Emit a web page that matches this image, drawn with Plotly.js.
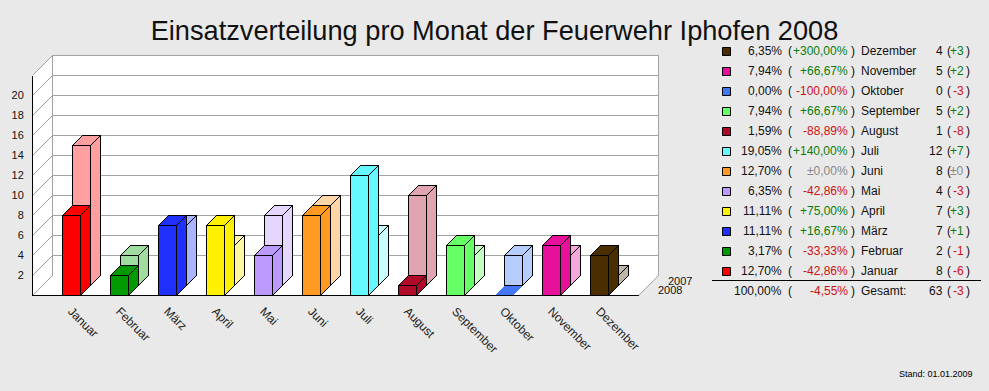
<!DOCTYPE html>
<html>
<head>
<meta charset="utf-8">
<script src="https://cdn.plot.ly/plotly-3.0.1.min.js"></script>
<style>html,body{margin:0;padding:0;background:#E9E9E9;}
.scatterlayer path{shape-rendering:crispEdges;}</style>
</head>
<body>
<div id="chart" style="width:989px;height:391px;"></div>
<script>
// ---- data ----
const months = ["Januar","Februar","März","April","Mai","Juni","Juli","August","September","Oktober","November","Dezember"];
const values2008 = [8,2,7,7,4,8,12,1,5,0,5,4];
const values2007 = [14,3,6,4,7,8,5,9,3,3,3,1];
const colors2008 = ["#FF0000","#009900","#2030FF","#FFF000","#BB99FF","#FF9922","#66F8FF","#B00A28","#66FF66","#4477F5","#E6109A","#4A2E00"];
const colors2007 = ["#FF9F9F","#A0DBA0","#AAB4FF","#FFF8A0","#E4D6FF","#FFD6A8","#C8FCFF","#E1A5B2","#C4FFC4","#B8CDFF","#F5A6DA","#BDB5A5"];
const shares = ["12,70%","3,17%","11,11%","11,11%","6,35%","12,70%","19,05%","1,59%","7,94%","0,00%","7,94%","6,35%"];
const percentChanges = ["-42,86%","-33,33%","+16,67%","+75,00%","-42,86%","±0,00%","+140,00%","-88,89%","+66,67%","-100,00%","+66,67%","+300,00%"];
const countChanges = ["-6","-1","+1","+3","-3","±0","+7","-8","+2","-3","+2","+3"];
const yTicks = [2,4,6,8,10,12,14,16,18,20];
const totalRow = {share:"100,00%", pct:"-4,55%", label:"Gesamt:", count:"63", diff:"-3"};
const seriesNames = ["2007","2008"];

// ---- geometry (pixels of the page) ----
const W = 989, H = 391;
const plot = {l:30, r:670, t:55, b:301};
const zeroRow = 295.5, pxPerUnit = 10, slot = 48, firstCenter = 71.5;
const halfBar = 9, depth = 10;           // px
const depthX = depth/slot, depthY = depth/pxPerUnit;
const xFront0 = (32.5-firstCenter)/slot, xFrontEnd = (638.5-firstCenter)/slot;
const axisTop = 22;
const wallShift = 2;
const wallX = wallShift*depthX, wallY = wallShift*depthY;
const xr = [(plot.l-firstCenter)/slot, (plot.r-firstCenter)/slot];
const yr = [(zeroRow-plot.b)/pxPerUnit, (zeroRow-plot.t)/pxPerUnit];
const FONT = "Liberation Sans, Arial, sans-serif";

const px = x => (x-plot.l)/(plot.r-plot.l);
const py = y => (plot.b-y)/(plot.b-plot.t);

const traces = [];
// walls and floor
traces.push({x:[xFront0,xFront0+wallX,xFront0+wallX,xFront0,xFront0,null,
                xFront0+wallX,xFrontEnd+wallX,xFrontEnd+wallX,xFront0+wallX,xFront0+wallX,null,
                xFront0,xFrontEnd,xFrontEnd+wallX,xFront0+wallX,xFront0],
             y:[0,wallY,axisTop+wallY,axisTop,0,null,
                wallY,wallY,axisTop+wallY,axisTop+wallY,wallY,null,
                0,0,wallY,wallY,0],
             mode:"none",fill:"toself",fillcolor:"#FFFFFF",type:"scatter",hoverinfo:"skip"});
// grid
const gx=[],gy=[];
for(let v=0;v<=axisTop;v+=2){
  gx.push(xFront0,xFront0+wallX); gy.push(v,v+wallY);
  if(v>0){ gx.push(xFrontEnd+wallX); gy.push(v+wallY); }
  gx.push(null); gy.push(null);
}
gx.push(xFront0+wallX,xFront0+wallX,null,xFrontEnd+wallX,xFrontEnd+wallX,null,xFrontEnd,xFrontEnd+wallX);
gy.push(wallY,axisTop+wallY,null,wallY,axisTop+wallY,null,0,wallY);
traces.push({x:gx,y:gy,mode:"lines",line:{color:"#A3A3A3",width:1},type:"scatter",hoverinfo:"skip"});

function bar(i,v,offs,color,name){
  const c = i + offs*depthX, b = offs*depthY;
  const xl=c-halfBar/slot, xr2=c+halfBar/slot, t=b+v;
  const X=[xl,xr2,xr2,xl,xl,null, xl,xl+depthX,xr2+depthX,xr2,xl,null, xr2,xr2+depthX,xr2+depthX,xr2,xr2];
  const Y=[b,b,t,t,b,null, t,t+depthY,t+depthY,t,t,null, b,b+depthY,t+depthY,t,b];
  return {x:X,y:Y,mode:v>0?"lines":"none",fill:"toself",fillcolor:color,line:{color:"#000000",width:1},
          type:"scatter",name:name,hoverinfo:"skip"};
}
months.forEach((m,i)=>traces.push(bar(i,values2007[i],1,colors2007[i],m+" "+seriesNames[0])));
months.forEach((m,i)=>traces.push(bar(i,values2008[i],0,colors2008[i],m+" "+seriesNames[1])));
// black axes
traces.push({x:[xFront0,xFront0,xFrontEnd],y:[axisTop,0,0],mode:"lines",line:{color:"#000000",width:1},type:"scatter",hoverinfo:"skip"});

// ---- annotations (legend table etc.) ----
const ann=[];
function txt(x,y,text,anchor,color,size){
  ann.push({xref:"paper",yref:"paper",x:px(x),y:py(y),text:text,showarrow:false,xanchor:anchor,yanchor:"middle",
            font:{family:FONT,size:size||12,color:color||"#111111"},borderpad:0,borderwidth:0});
}
const chgColor = s => s[0]==="+" ? "#0A7D0A" : (s[0]==="-" ? "#CC1111" : "#888888");
const shapes=[];
const rowY = idx => 51 + 20*idx;
function row(y,share,pct,label,count,diff){
  txt(781.5,y,share,"right");
  txt(788,y,"(","left");
  txt(848,y,pct,"right",chgColor(pct));
  txt(850.5,y,")","left");
  txt(861,y,label,"left");
  txt(942.5,y,count,"right");
  txt(946.5,y,"(","left");
  txt(964,y,diff,"right",chgColor(diff));
  txt(965.5,y,")","left");
}
months.forEach((m,i)=>{
  const r = 11-i, y=rowY(r);
  row(y,shares[i],percentChanges[i],m,String(values2008[i]),countChanges[i]);
  shapes.push({type:"rect",xref:"paper",yref:"paper",x0:px(722.5),x1:px(730.5),y0:py(y-4+0.5),y1:py(y+4+0.5),
               fillcolor:colors2008[i],line:{color:"#000000",width:1},layer:"above"});
});
row(291,totalRow.share,totalRow.pct,totalRow.label,totalRow.count,totalRow.diff);
shapes.push({type:"line",xref:"paper",yref:"paper",x0:px(712),x1:px(981),y0:py(280.5),y1:py(280.5),line:{color:"#000000",width:1},layer:"above"});
txt(973,373.5,"Stand: 01.01.2009","right","#000000",9);
txt(658,290,seriesNames[1],"left","#111111",11);
txt(668,281,seriesNames[0],"left","#111111",11);

const layout={
  width:W,height:H,autosize:false,showlegend:false,
  paper_bgcolor:"#E9E9E9",plot_bgcolor:"rgba(0,0,0,0)",
  margin:{l:plot.l,r:W-plot.r,t:plot.t,b:H-plot.b,pad:0},
  title:{text:"Einsatzverteilung pro Monat der Feuerwehr Iphofen 2008",x:0.5,xref:"container",xanchor:"center",
         y:1-30/H,yref:"container",yanchor:"middle",font:{family:FONT,size:27.2,color:"#111111"}},
  xaxis:{range:xr,tickmode:"array",tickvals:months.map((m,i)=>i),ticktext:months,tickangle:45,showgrid:false,zeroline:false,
         showline:false,ticks:"",tickfont:{family:FONT,size:12,color:"#222222"}},
  yaxis:{range:yr,tickmode:"array",tickvals:yTicks,ticktext:yTicks.map(String),showgrid:false,zeroline:false,showline:false,
         ticks:"outside",ticklen:3,tickcolor:"rgba(0,0,0,0)",tickfont:{family:FONT,size:11,color:"#111111"},automargin:false},
  annotations:ann,shapes:shapes
};
Plotly.newPlot("chart",traces,layout,{displayModeBar:false,staticPlot:true});
</script>
</body>
</html>
